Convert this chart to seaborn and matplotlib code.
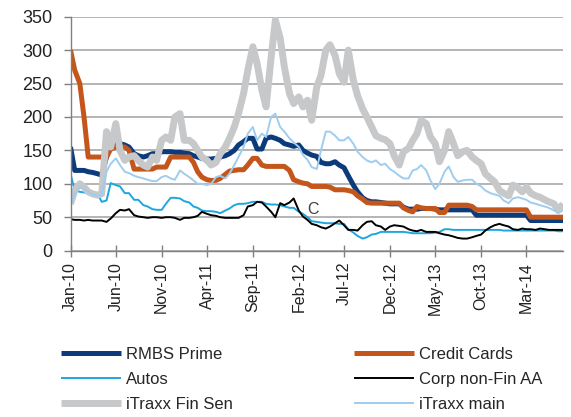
import matplotlib
matplotlib.use("Agg")
import matplotlib.pyplot as plt
import pandas as pd
import seaborn as sns

# semi-monthly observations, Jan-10 .. Jul-14 (bp)
dates = pd.date_range("2010-01-01", periods=109, freq="SMS")

rmbs_prime = [
    155, 120, 120, 120, 118, 117, 115, 113, 140, 158,
    162, 160, 158, 155, 145, 142, 140, 142, 145, 145,
    148, 148, 148, 147, 147, 146, 145, 142, 140, 138,
    137, 137, 138, 140, 142, 145, 150, 158, 163, 168,
    168, 152, 152, 168, 170, 168, 165, 160, 158, 156,
    158, 150, 146, 143, 141, 132, 130, 130, 133, 128,
    124, 112, 98, 88, 79, 75, 73, 73, 72, 71,
    70, 70, 70, 65, 62, 62, 62, 63, 63, 63,
    62, 61, 61, 61, 61, 61, 61, 61, 61, 53,
    53, 53, 53, 53, 53, 53, 53, 53, 53, 53,
    53, 45, 45, 45, 45, 45, 45, 45, 45,
]
credit_cards = [
    300, 270, 250, 200, 140, 140, 140, 140, 140, 152,
    155, 155, 155, 150, 122, 122, 122, 122, 122, 125,
    125, 125, 140, 140, 140, 140, 140, 132, 118, 110,
    106, 105, 105, 108, 114, 119, 120, 121, 121, 128,
    138, 138, 128, 126, 126, 126, 126, 126, 120, 106,
    103, 101, 100, 96, 96, 96, 96, 95, 91, 91,
    91, 90, 88, 82, 77, 72, 71, 71, 71, 71,
    71, 71, 71, 64, 60, 58, 66, 64, 63, 63,
    63, 57, 57, 68, 68, 68, 68, 68, 66, 61,
    61, 61, 61, 61, 61, 61, 61, 61, 61, 61,
    61, 50, 50, 50, 50, 50, 50, 50, 50,
]
autos = [
    115, 90, 88, 87, 86, 86, 85, 73, 75, 101,
    98, 96, 86, 86, 76, 76, 68, 66, 62, 61,
    61, 70, 79, 79, 78, 74, 72, 66, 64, 60,
    59, 59, 58, 56, 60, 63, 68, 70, 70, 71,
    73, 73, 73, 70, 69, 69, 68, 66, 64, 64,
    58, 55, 50, 44, 43, 42, 41, 41, 41, 40,
    40, 32, 27, 22, 18, 20, 24, 25, 28, 28,
    28, 28, 28, 28, 27, 26, 26, 26, 26, 26,
    27, 28, 32, 32, 31, 31, 31, 31, 31, 31,
    31, 31, 31, 31, 31, 30, 30, 30, 30, 30,
    30, 30, 30, 30, 30, 30, 30, 29, 29,
]
corp_nonfin_aa = [
    47, 46, 46, 45, 46, 45, 45, 45, 43, 48,
    56, 61, 60, 62, 53, 51, 50, 49, 50, 50,
    49, 50, 50, 49, 46, 49, 49, 50, 52, 58,
    55, 53, 52, 50, 49, 49, 49, 49, 53, 66,
    68, 73, 72, 66, 58, 50, 71, 68, 72, 78,
    60, 51, 46, 40, 38, 35, 33, 36, 41, 45,
    38, 31, 31, 30, 38, 43, 44, 38, 36, 31,
    36, 38, 37, 36, 32, 30, 29, 31, 28, 28,
    28, 26, 24, 23, 21, 19, 18, 18, 20, 22,
    24, 30, 35, 38, 40, 38, 36, 32, 31, 33,
    32, 32, 31, 33, 32, 31, 31, 31, 31,
]
itraxx_fin_sen = [
    70, 90, 100, 95, 88, 85, 83, 85, 178, 155,
    190, 150, 135, 140, 142, 135, 128, 125, 140, 135,
    165, 170, 165, 200, 205, 165, 165, 160, 150, 140,
    135, 128, 132, 145, 155, 168, 185, 205, 235, 270,
    305, 280, 240, 215, 290, 345, 318, 275, 235, 220,
    230, 215, 225, 195, 245, 262, 300, 308, 292, 265,
    252, 300, 255, 232, 212, 200, 185, 172, 168, 166,
    160, 142, 128, 148, 153, 165, 175, 195, 190, 170,
    160, 133, 150, 178, 160, 142, 148, 150, 140, 135,
    130, 115, 108, 103, 90, 86, 82, 98, 94, 88,
    95, 86, 82, 80, 76, 73, 70, 60, 70,
]
itraxx_main = [
    68, 85, 95, 93, 88, 84, 82, 84, 118, 130,
    138, 128, 118, 116, 112, 110, 108, 106, 104, 104,
    110, 112, 108, 106, 120, 115, 110, 105, 100, 100,
    98, 100, 110, 112, 108, 115, 128, 140, 155, 175,
    185, 165, 175, 170, 200, 205, 185, 178, 168, 162,
    155, 143, 136, 125, 122, 150, 178, 178, 172, 165,
    165, 170, 160, 148, 140, 135, 132, 135, 128, 130,
    122, 118, 112, 108, 108, 120, 122, 128, 120, 105,
    92, 100, 118, 126, 110, 103, 105, 106, 106, 100,
    96, 90, 86, 84, 82, 75, 71, 78, 80, 78,
    76, 72, 70, 68, 66, 64, 60, 57, 60,
]

tick_labels = ["Jan-10", "Jun-10", "Nov-10", "Apr-11", "Sep-11", "Feb-12",
               "Jul-12", "Dec-12", "May-13", "Oct-13", "Mar-14"]

sns.set_theme(style="white")
plt.rcParams["font.family"] = ["Liberation Sans", "DejaVu Sans"]

fig = plt.figure(figsize=(5.71, 4.17), dpi=100)
ax = fig.add_axes([0.1235, 0.399, 0.8625, 0.561])

# name, values, colour, width -- drawn in this order (later on top)
series = [
    ("RMBS Prime", rmbs_prime, "#0c3b7c", 3.6),
    ("Credit Cards", credit_cards, "#c4551b", 3.6),
    ("Autos", autos, "#1da6e0", 1.4),
    ("Corp non-Fin AA", corp_nonfin_aa, "#000000", 1.4),
    ("iTraxx Fin Sen", itraxx_fin_sen, "#c7c8ca", 5.0),
    ("iTraxx main", itraxx_main, "#9fcdef", 1.4),
]
for name, vals, col, lw in series:
    sns.lineplot(x=dates, y=vals, ax=ax, color=col, linewidth=lw,
                 label=name, legend=False,
                 solid_joinstyle="round", solid_capstyle="butt")

ax.text(pd.Timestamp("2012-03-21"), 61, "C", fontsize=11.5, color="#404040",
        ha="center", va="center")

ax.set_xlim(dates[0], dates[-1])
ax.set_ylim(0, 350)
ax.set_yticks(range(0, 351, 50))
ax.set_xticks(pd.to_datetime(tick_labels, format="%b-%y"))
ax.set_xticklabels(tick_labels, rotation=90)
ax.set_xlabel("")
ax.set_ylabel("")

ax.yaxis.grid(True, color="#a0a0a0", linewidth=1.1)
ax.xaxis.grid(False)
ax.set_axisbelow(True)
for s in ["top", "right"]:
    ax.spines[s].set_visible(False)
for s in ["left", "bottom"]:
    ax.spines[s].set_color("#808080")
    ax.spines[s].set_linewidth(1.0)

ax.tick_params(axis="y", left=True, length=5, width=1, color="#808080",
               pad=8, labelsize=13, labelcolor="#222222")
ax.tick_params(axis="x", bottom=True, direction="inout", length=8, width=1,
               color="#808080", pad=4, labelsize=11.5, labelcolor="#222222")

# legend below, two columns
h = ax.get_lines()
leg_kw = dict(loc="upper left", frameon=False, fontsize=12, handlelength=3.6,
              handletextpad=0.3, labelspacing=0.6, borderpad=0, borderaxespad=0)
fig.legend([h[0], h[2], h[4]], ["RMBS Prime", "Autos", "iTraxx Fin Sen"],
           bbox_to_anchor=(61 / 571, 1 - 347 / 417), **leg_kw)
fig.legend([h[1], h[3], h[5]], ["Credit Cards", "Corp non-Fin AA", "iTraxx main"],
           bbox_to_anchor=(354 / 571, 1 - 347 / 417), **leg_kw)

fig.savefig("out.png", dpi=100)
